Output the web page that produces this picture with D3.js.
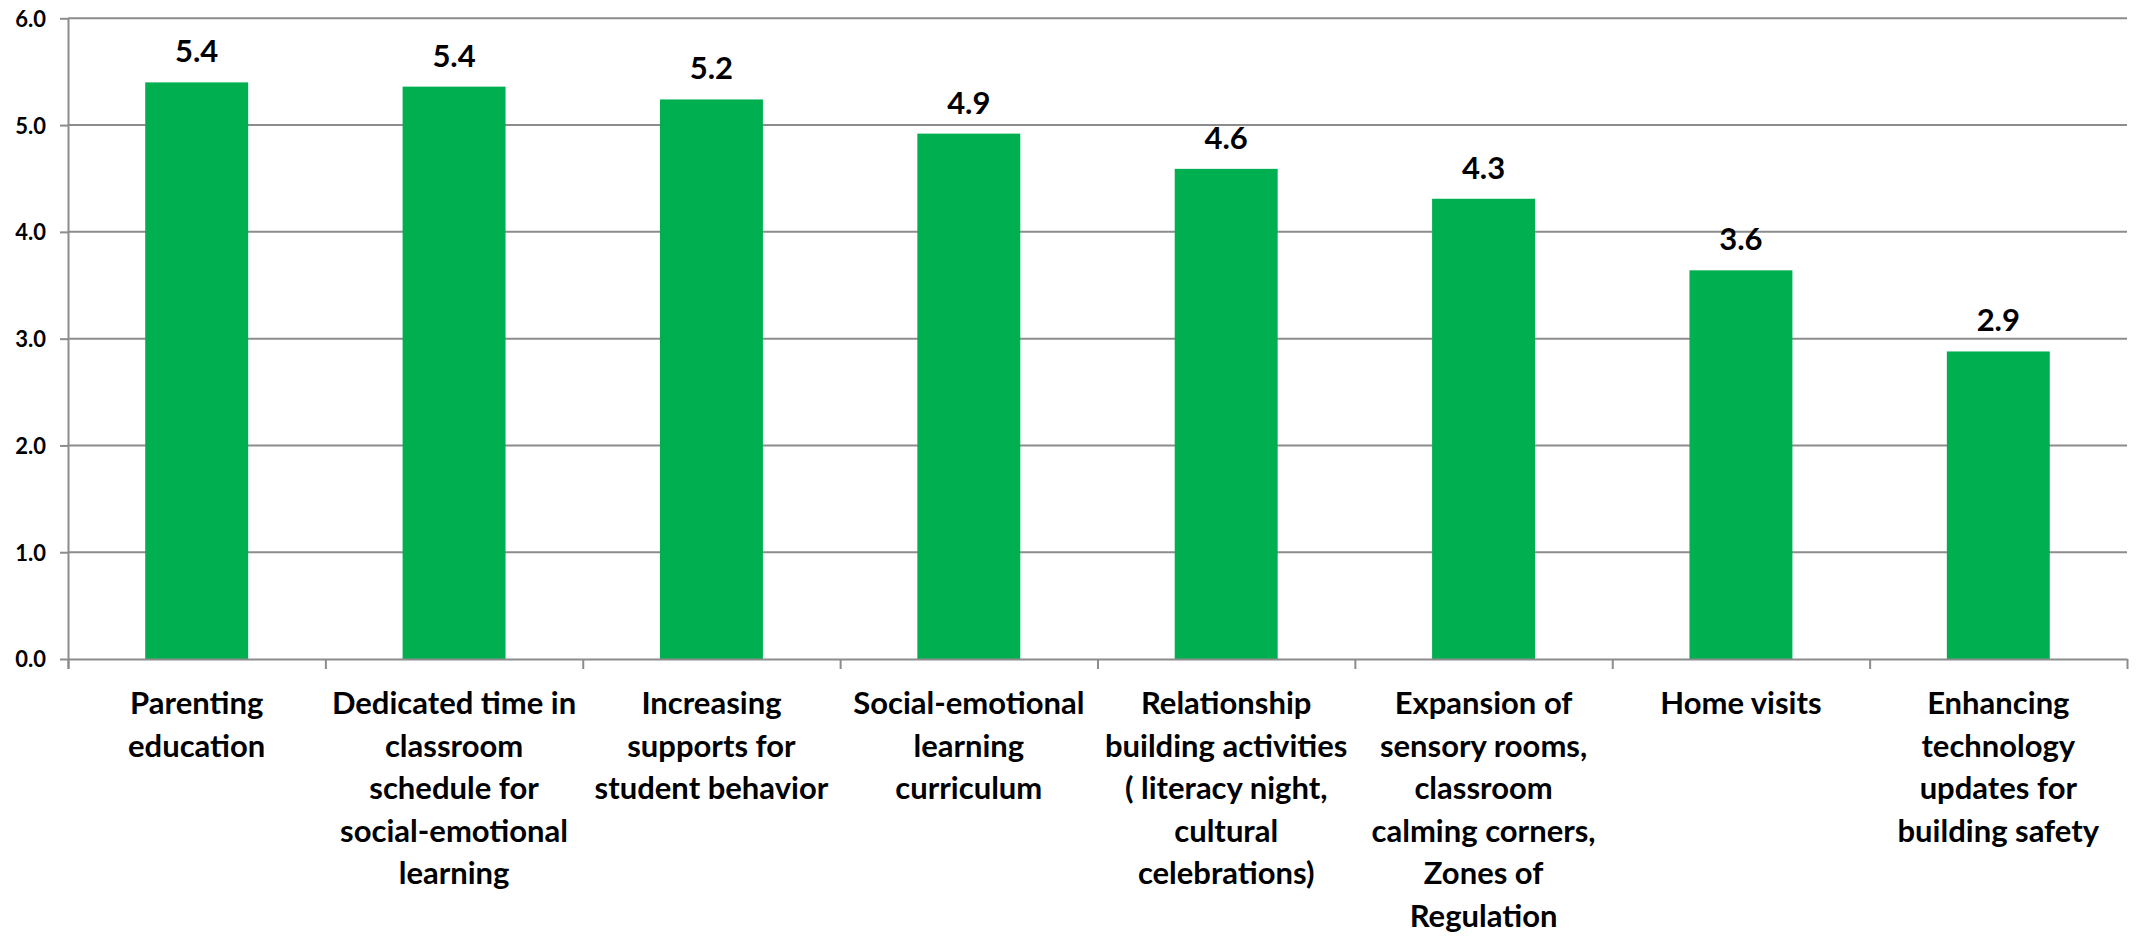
<!DOCTYPE html>
<html>
<head>
<meta charset="utf-8">
<script src="https://cdn.jsdelivr.net/npm/d3@7"></script>
<style>
  html, body { margin: 0; padding: 0; background: #ffffff; }
  svg { display: block; }
  text { font-family: Lato, "Open Sans", sans-serif; font-weight: 700; fill: #000; }
</style>
</head>
<body>
<svg id="chart" width="2136" height="952"></svg>
<script>
// ---- data ----
const categories = [
  ["Parenting", "education"],
  ["Dedicated time in", "classroom", "schedule for", "social-emotional", "learning"],
  ["Increasing", "supports for", "student behavior"],
  ["Social-emotional", "learning", "curriculum"],
  ["Relationship", "building activities", "( literacy night,", "cultural", "celebrations)"],
  ["Expansion of", "sensory rooms,", "classroom", "calming corners,", "Zones of", "Regulation"],
  ["Home visits"],
  ["Enhancing", "technology", "updates for", "building safety"]
];
const values = [5.40, 5.36, 5.24, 4.92, 4.59, 4.31, 3.64, 2.88];
const yTicks = [0, 1, 2, 3, 4, 5, 6];

// ---- layout ----
const mLeft = 68, mRight = 2127, mTop = 18.3, mBottom = 659;
const svg = d3.select("#chart");
const ids = categories.map((c, i) => i);

const x = d3.scaleBand().domain(ids).range([mLeft, mRight]).paddingInner(0.6).paddingOuter(0.3);
const xEdges = d3.scaleLinear().domain([0, categories.length]).range([mLeft, mRight]);
const y = d3.scaleLinear().domain([0, 6]).range([mBottom, mTop]);

const gray = "#8c8c8c";

// gridlines
svg.append("g").selectAll("line").data(yTicks.filter(d => d > 0)).join("line")
  .attr("x1", mLeft).attr("x2", mRight)
  .attr("y1", d => y(d)).attr("y2", d => y(d))
  .attr("stroke", gray).attr("stroke-width", 2);

// bars
svg.append("g").selectAll("rect").data(values).join("rect")
  .attr("x", (d, i) => x(i))
  .attr("width", x.bandwidth())
  .attr("y", d => y(d))
  .attr("height", d => y(0) - y(d))
  .attr("fill", "#00B050");

// y axis
const yAxis = svg.append("g").attr("transform", `translate(${mLeft},0)`)
  .call(d3.axisLeft(y).tickValues(yTicks).tickFormat(d3.format(".1f")).tickSize(8).tickSizeOuter(0).tickPadding(14));
yAxis.select(".domain").attr("stroke", gray).attr("stroke-width", 2)
  .attr("d", `M0.5,${mTop}V${mBottom + 10}`);
yAxis.selectAll(".tick line").attr("stroke", gray).attr("stroke-width", 2);
yAxis.selectAll(".tick text").attr("font-size", 22).attr("font-family", "Lato, sans-serif")
  .attr("font-weight", 700).attr("fill", "#000").attr("dy", "0.36em");

// x axis (ticks at category boundaries)
const xAxis = svg.append("g").attr("transform", `translate(0,${mBottom})`)
  .call(d3.axisBottom(xEdges).tickValues(d3.range(0, categories.length + 1)).tickFormat("").tickSize(10).tickSizeOuter(0));
xAxis.select(".domain").attr("stroke", gray).attr("stroke-width", 2);
xAxis.selectAll(".tick line").attr("stroke", gray).attr("stroke-width", 2);

// value labels
svg.append("g").selectAll("text").data(values).join("text")
  .attr("x", (d, i) => x(i) + x.bandwidth() / 2)
  .attr("y", d => y(d) - 20)
  .attr("text-anchor", "middle")
  .attr("font-size", 31)
  .text(d => d.toFixed(1));

// category labels
const lineH = 42.6;
const cat = svg.append("g").selectAll("text").data(categories).join("text")
  .attr("text-anchor", "middle")
  .attr("font-size", 31)
  .attr("transform", (d, i) => `translate(${x(i) + x.bandwidth() / 2},714)`);
cat.selectAll("tspan").data(d => d).join("tspan")
  .attr("x", 0)
  .attr("y", (d, j) => j * lineH)
  .text(d => d);
</script>
</body>
</html>
